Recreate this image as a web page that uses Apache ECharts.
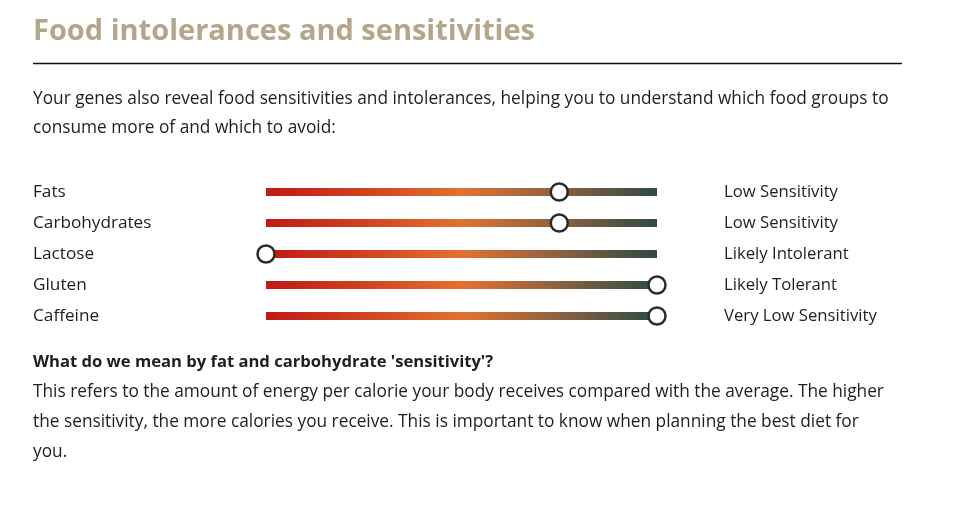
<!DOCTYPE html>
<html>
<head>
<meta charset="utf-8">
<script src="https://cdn.jsdelivr.net/npm/echarts@6/dist/echarts.min.js"></script>
<style>
  html, body { margin: 0; padding: 0; background: #fff; }
  #mybox { width: 964px; height: 505px; }
</style>
</head>
<body>
<div id="mybox"></div>
<script>
// 数据
var foods = ['Fats', 'Carbohydrates', 'Lactose', 'Gluten', 'Caffeine'];
var results = ['Low Sensitivity', 'Low Sensitivity', 'Likely Intolerant', 'Likely Tolerant', 'Very Low Sensitivity'];
var scores = [75, 75, 0, 100, 100];
var trackMax = [100, 100, 100, 100, 100];

var FONT = '"Open Sans", Lato, sans-serif';
var textColor = '#1e1e1e';

var mycharts = echarts.init(document.getElementById('mybox'));

// 渐变色条
var barGradient = new echarts.graphic.LinearGradient(0, 0, 1, 0, [
    { offset: 0, color: '#c01a14' },
    { offset: 0.25, color: '#d0421f' },
    { offset: 0.5, color: '#e3712f' },
    { offset: 0.75, color: '#8c6140' },
    { offset: 1, color: '#2e4a44' }
]);

function textBlock(x, y, str, opts) {
    opts = opts || {};
    return {
        type: 'text',
        left: x,
        top: y,
        style: {
            text: str,
            font: (opts.weight || 'normal') + ' ' + (opts.size || 17.3) + 'px ' + FONT,
            fill: opts.color || textColor
        }
    };
}

var option = {
    animation: false,
    grid: { left: 266, right: 307, top: 176.5, bottom: 173.5 },
    xAxis: {
        type: 'value', min: 0, max: 100,
        show: false
    },
    yAxis: [
        {
            type: 'category', data: foods, inverse: true,
            axisLine: { show: false }, axisTick: { show: false }, splitLine: { show: false },
            axisLabel: { align: 'left', margin: 233, color: textColor, fontSize: 17.2, fontFamily: FONT }
        },
        {
            type: 'category', data: results, inverse: true, position: 'right',
            axisLine: { show: false }, axisTick: { show: false }, splitLine: { show: false },
            axisLabel: { align: 'left', margin: 67, color: textColor, fontSize: 16.7, fontFamily: FONT }
        }
    ],
    series: [
        {
            type: 'bar',
            data: trackMax,
            barWidth: 8,
            itemStyle: { color: barGradient },
            silent: true
        },
        {
            type: 'scatter',
            data: scores.map(function (v, i) { return [v, i]; }),
            symbol: 'circle',
            symbolSize: 17,
            itemStyle: { color: '#fff', borderColor: '#2b2b2b', borderWidth: 2.5, opacity: 1 },
            z: 5
        }
    ],
    graphic: [
        textBlock(33, 17, 'Food intolerances and sensitivities', { size: 29, weight: 'bold', color: '#b4a68b' }),
        {
            type: 'line',
            shape: { x1: 33, y1: 63.5, x2: 902, y2: 63.5 },
            style: { stroke: '#111', lineWidth: 1.5 }
        },
        textBlock(33, 91, 'Your genes also reveal food sensitivities and intolerances, helping you to understand which food groups to'),
        textBlock(33, 120, 'consume more of and which to avoid:'),
        textBlock(33, 354, "What do we mean by fat and carbohydrate 'sensitivity'?", { weight: 'bold', size: 16.6 }),
        textBlock(33, 384, 'This refers to the amount of energy per calorie your body receives compared with the average. The higher'),
        textBlock(33, 414, 'the sensitivity, the more calories you receive. This is important to know when planning the best diet for'),
        textBlock(33, 444, 'you.')
    ]
};

mycharts.setOption(option);
</script>
</body>
</html>
